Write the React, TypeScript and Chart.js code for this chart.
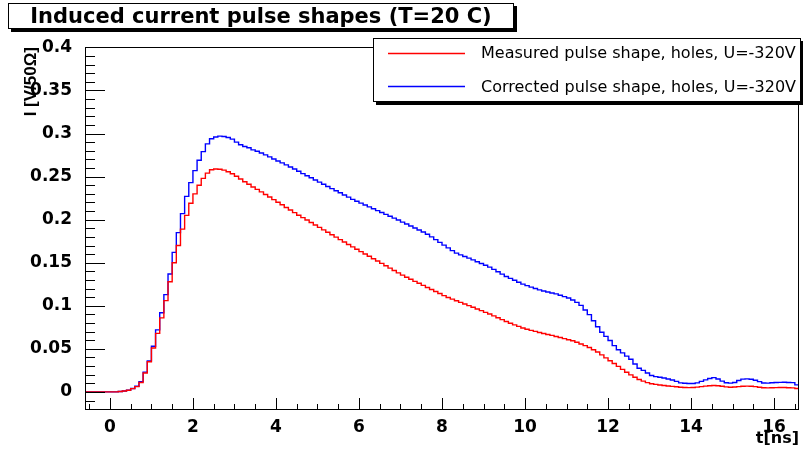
import { useEffect, useRef } from 'react';
import { Chart, registerables } from 'chart.js';

Chart.register(...registerables);

const TITLE = 'Induced current pulse shapes (T=20 C)';
const X_TITLE = 't[ns]';
const Y_TITLE = 'I [V/50Ω]';

const X_MIN = -0.6;
const X_MAX = 16.6;
const Y_MIN = -0.021;
const Y_MAX = 0.4005;
const BIN_WIDTH = 0.1;

const SERIES_NAMES = [
  'Measured pulse shape, holes, U=-320V',
  'Corrected pulse shape, holes, U=-320V',
];
const SERIES_COLORS = ['#ff0000', '#0000ff'];

// bin contents, one value per 0.1 ns bin starting at X_MIN
const MEASURED = [
  0, 0, 0, 0, 0, 0, 0, 0,
  0.0005, 0.001, 0.002, 0.0038, 0.0062,
  0.011, 0.022, 0.035, 0.051, 0.068, 0.086, 0.106, 0.128, 0.150, 0.170,
  0.189, 0.205, 0.219, 0.230, 0.240, 0.248, 0.254, 0.2580, 0.2588, 0.2586,
  0.2575, 0.2556, 0.2533, 0.2505, 0.2473, 0.2441, 0.2411, 0.2380, 0.2352, 0.2323,
  0.2293, 0.2263, 0.2233, 0.2203, 0.2173, 0.2142, 0.2112, 0.2082, 0.2052, 0.2024,
  0.1996, 0.1967, 0.1939, 0.1910, 0.1882, 0.1854, 0.1825, 0.1797, 0.1768, 0.1740,
  0.1712, 0.1684, 0.1657, 0.1629, 0.1602, 0.1575, 0.1547, 0.1520, 0.1492, 0.1465,
  0.1437, 0.1410, 0.1382, 0.1356, 0.1332, 0.1308, 0.1284, 0.1261, 0.1237, 0.1213,
  0.1190, 0.1166, 0.1142, 0.1118, 0.1097, 0.1078, 0.1059, 0.1040, 0.1021, 0.1002,
  0.0983, 0.0963, 0.0944, 0.0924, 0.0905, 0.0883, 0.0861, 0.0839, 0.0817, 0.0797,
  0.0779, 0.0761, 0.0743, 0.0728, 0.0715, 0.0703, 0.0690, 0.0679, 0.0667, 0.0656,
  0.0644, 0.0632, 0.0619, 0.0606, 0.0594, 0.0577, 0.0557, 0.0537, 0.0515, 0.0489,
  0.0463, 0.0430, 0.0395, 0.0362, 0.0330, 0.0297, 0.0262, 0.0228, 0.0198, 0.0170,
  0.0145, 0.0125, 0.0108, 0.0095, 0.0087, 0.0080, 0.0074, 0.0068, 0.0064, 0.0060,
  0.0055, 0.0051, 0.0050, 0.0052, 0.0056, 0.0061, 0.0067, 0.0072, 0.0075, 0.0072,
  0.0065, 0.0058, 0.0055, 0.0057, 0.0062, 0.0066, 0.0067, 0.0066, 0.0062, 0.0055,
  0.0049, 0.0047, 0.0048, 0.0050, 0.0051, 0.0051, 0.0049, 0.0047, 0.0040,
];

const CORRECTED = [
  0, 0, 0, 0, 0, 0, 0, 0,
  0.0005, 0.001, 0.002, 0.004, 0.0066,
  0.012, 0.023, 0.036, 0.053, 0.072, 0.092, 0.113, 0.137, 0.162, 0.185,
  0.207, 0.227, 0.243, 0.257, 0.269, 0.279, 0.288, 0.294, 0.296, 0.297,
  0.2966, 0.2954, 0.2935, 0.2900, 0.2870, 0.2850, 0.2835, 0.2810, 0.2795, 0.2775,
  0.2752, 0.2729, 0.2705, 0.2682, 0.2659, 0.2636, 0.2612, 0.2589, 0.2562, 0.2535,
  0.2510, 0.2486, 0.2461, 0.2436, 0.2411, 0.2386, 0.2361, 0.2336, 0.2312, 0.2287,
  0.2262, 0.2236, 0.2214, 0.2192, 0.2171, 0.2149, 0.2127, 0.2105, 0.2084, 0.2062,
  0.2040, 0.2018, 0.1996, 0.1972, 0.1949, 0.1926, 0.1903, 0.1880, 0.1857, 0.1830,
  0.1800, 0.1768, 0.1736, 0.1705, 0.1673, 0.1641, 0.1612, 0.1591, 0.1572, 0.1553,
  0.1533, 0.1512, 0.1491, 0.1470, 0.1449, 0.1423, 0.1395, 0.1368, 0.1341, 0.1318,
  0.1296, 0.1274, 0.1252, 0.1234, 0.1217, 0.1201, 0.1185, 0.1172, 0.1161, 0.1149,
  0.1138, 0.1123, 0.1107, 0.1091, 0.1068, 0.1040, 0.1005, 0.0952, 0.0898, 0.0827,
  0.0757, 0.0692, 0.0645, 0.0597, 0.0537, 0.0490, 0.0453, 0.0416, 0.0380, 0.0325,
  0.0275, 0.0250, 0.0220, 0.0190, 0.0178, 0.0170, 0.0162, 0.0150, 0.0139, 0.0122,
  0.0105, 0.0100, 0.0097, 0.0098, 0.0105, 0.0122, 0.0140, 0.0155, 0.0166, 0.0150,
  0.0125, 0.0107, 0.0102, 0.0110, 0.0133, 0.0148, 0.0151, 0.0147, 0.0135, 0.0120,
  0.0103, 0.0102, 0.0106, 0.0109, 0.0111, 0.0112, 0.0110, 0.0108, 0.0082,
];

const X_TICKS = [0, 2, 4, 6, 8, 10, 12, 14, 16];
const X_TICK_LABELS = ['0', '2', '4', '6', '8', '10', '12', '14', '16'];
const Y_TICKS = [0, 0.05, 0.1, 0.15, 0.2, 0.25, 0.3, 0.35, 0.4];
const Y_TICK_LABELS = ['0', '0.05', '0.1', '0.15', '0.2', '0.25', '0.3', '0.35', '0.4'];

const FONT = 'DejaVu Sans';

function histPoints(values: number[]) {
  const pts = values.map((v, i) => ({ x: X_MIN + i * BIN_WIDTH, y: v }));
  pts.push({ x: X_MIN + values.length * BIN_WIDTH, y: values[values.length - 1] });
  return pts;
}

const rootDecor = {
  id: 'rootDecor',
  afterDatasetsDraw(chart: any) {
    const { ctx, chartArea, scales } = chart;
    const { left, top, right, bottom } = chartArea;
    const x = scales.x;
    const y = scales.y;
    ctx.save();
    ctx.strokeStyle = '#000';
    ctx.lineWidth = 1;
    ctx.strokeRect(left + 0.5, top + 0.5, right - left - 1, bottom - top - 1);
    ctx.beginPath();
    for (let i = -2; i <= 40; i++) {
      const py = Math.round(y.getPixelForValue(i / 100)) + 0.5;
      if (py < top || py > bottom) continue;
      const len = i % 5 === 0 ? 20 : 10;
      ctx.moveTo(left, py);
      ctx.lineTo(left + len, py);
    }
    for (let i = -1; i <= 33; i++) {
      const px = Math.round(x.getPixelForValue(i * 0.5)) + 0.5;
      if (px < left || px > right) continue;
      const len = i % 4 === 0 ? 12 : 6;
      ctx.moveTo(px, bottom);
      ctx.lineTo(px, bottom - len);
    }
    ctx.stroke();
    ctx.restore();
  },
  afterDraw(chart: any) {
    const { ctx } = chart;
    ctx.save();
    // title pave with shadow
    ctx.fillStyle = '#000';
    ctx.fillRect(11, 6, 506, 26);
    ctx.fillStyle = '#fff';
    ctx.fillRect(8, 3, 506, 26);
    ctx.strokeStyle = '#000';
    ctx.lineWidth = 1;
    ctx.strokeRect(8.5, 3.5, 505, 25);
    ctx.fillStyle = '#000';
    ctx.font = `bold 21px "${FONT}"`;
    ctx.textAlign = 'center';
    ctx.textBaseline = 'alphabetic';
    ctx.fillText(TITLE, 261, 23);

    // legend pave with shadow
    ctx.fillStyle = '#000';
    ctx.fillRect(376, 41, 428, 64);
    ctx.fillStyle = '#fff';
    ctx.fillRect(373, 38, 428, 64);
    ctx.strokeStyle = '#000';
    ctx.strokeRect(373.5, 38.5, 427, 63);
    const rows = [53.5, 86.5];
    const bases = [58, 91.5];
    ctx.font = `16px "${FONT}"`;
    ctx.textAlign = 'left';
    for (let i = 0; i < SERIES_NAMES.length; i++) {
      ctx.strokeStyle = SERIES_COLORS[i];
      ctx.lineWidth = 1.3;
      ctx.beginPath();
      ctx.moveTo(388, rows[i]);
      ctx.lineTo(465, rows[i]);
      ctx.stroke();
      ctx.fillStyle = '#000';
      ctx.fillText(SERIES_NAMES[i], 481, bases[i]);
    }
    ctx.restore();
  },
};

export default function App() {
  const canvasRef = useRef<HTMLCanvasElement | null>(null);

  useEffect(() => {
    const canvas = canvasRef.current;
    if (!canvas) return;
    const tickFont = { family: FONT, size: 17, weight: 'bold' as const, lineHeight: 1 };
    const chart = new Chart(canvas, {
      type: 'line',
      data: {
        datasets: [
          {
            label: SERIES_NAMES[0],
            data: histPoints(MEASURED),
            borderColor: SERIES_COLORS[0],
            borderWidth: 1.4,
            stepped: 'before',
            pointRadius: 0,
            fill: false,
          },
          {
            label: SERIES_NAMES[1],
            data: histPoints(CORRECTED),
            borderColor: SERIES_COLORS[1],
            borderWidth: 1.4,
            stepped: 'before',
            pointRadius: 0,
            fill: false,
          },
        ],
      },
      options: {
        animation: false,
        responsive: false,
        devicePixelRatio: 1,
        layout: { padding: { left: 0, right: 4, top: 47, bottom: 0 } },
        plugins: {
          legend: { display: false },
          tooltip: { enabled: false },
          title: { display: false },
        },
        scales: {
          x: {
            type: 'linear',
            min: X_MIN,
            max: X_MAX,
            grid: { display: false },
            border: { display: false },
            afterBuildTicks: (s: any) => {
              s.ticks = X_TICKS.map((v) => ({ value: v }));
            },
            afterFit: (s: any) => {
              s.height = 39;
            },
            ticks: {
              autoSkip: false,
              maxRotation: 0,
              minRotation: 0,
              padding: 1,
              color: '#000',
              font: tickFont,
              callback: (_v: any, i: number) => X_TICK_LABELS[i],
            },
            title: {
              display: true,
              text: X_TITLE,
              align: 'end',
              color: '#000',
              font: { family: FONT, size: 16, weight: 'bold', lineHeight: 1.2 },
              padding: { top: 0, bottom: 1 },
            },
          },
          y: {
            type: 'linear',
            min: Y_MIN,
            max: Y_MAX,
            grid: { display: false },
            border: { display: false },
            afterBuildTicks: (s: any) => {
              s.ticks = Y_TICKS.map((v) => ({ value: v }));
            },
            afterFit: (s: any) => {
              s.width = 85;
            },
            ticks: {
              padding: 5,
              color: '#000',
              font: tickFont,
              callback: (_v: any, i: number) => Y_TICK_LABELS[i],
            },
            title: {
              display: true,
              text: Y_TITLE,
              align: 'end',
              color: '#000',
              font: { family: 'Liberation Sans', size: 17, weight: 'bold', lineHeight: 1.2 },
              padding: { top: 21, bottom: 0 },
            },
          },
        },
      },
      plugins: [rootDecor],
    });
    return () => chart.destroy();
  }, []);

  return (
    <div style={{ position: 'fixed', left: 0, top: 0, width: 803, height: 449, background: '#fff' }}>
      <canvas ref={canvasRef} width={803} height={449} />
    </div>
  );
}
